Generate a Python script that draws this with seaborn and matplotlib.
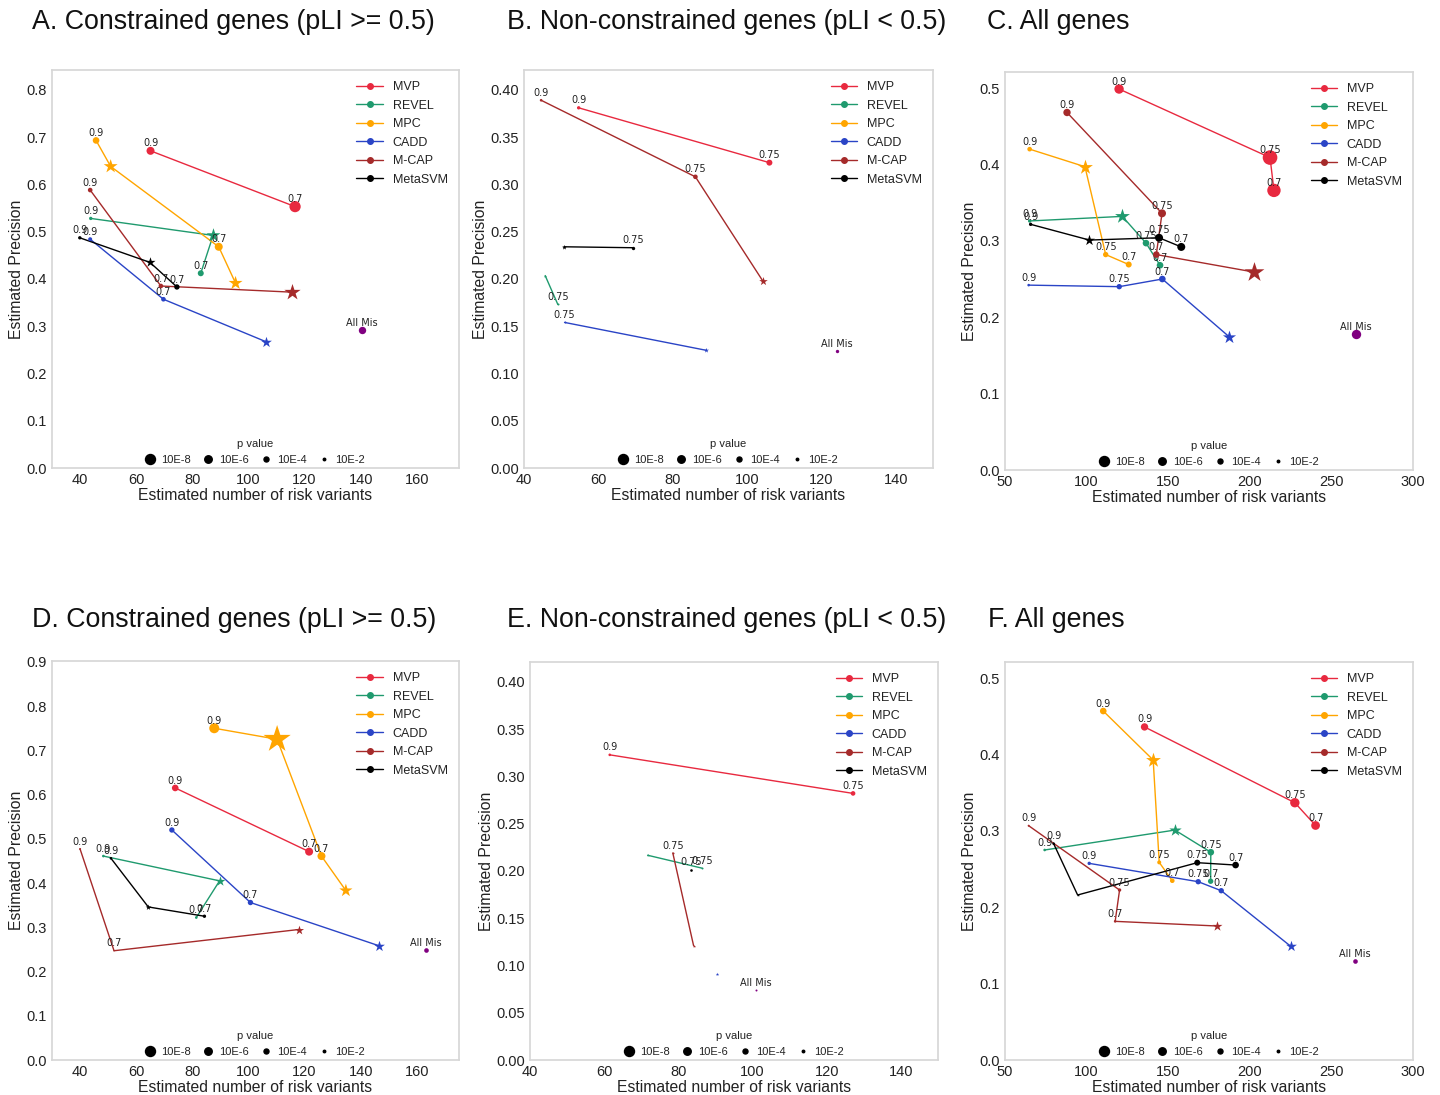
import numpy as np
import pandas as pd
import seaborn as sns
import matplotlib.pyplot as plt
from matplotlib.lines import Line2D
from matplotlib.ticker import MultipleLocator

#Methods and their colours
methods = ['MVP', 'REVEL', 'MPC', 'CADD', 'M-CAP', 'MetaSVM']
method_colors = ['#e8293f', '#1f9a6e', '#ffa500', '#2a44c6', '#a52a2a', '#000000']
#p value legend (-log10 p)
pvalue_legend = [8, 6, 4, 2]
pvalue_labels = ['10E-8', '10E-6', '10E-4', '10E-2']

#Panel A - constrained genes, threshold '' means the star point
a_method = ['MVP']*2 + ['REVEL']*3 + ['MPC']*4 + ['CADD']*3 + ['M-CAP']*3 + ['MetaSVM']*3
a_x = [65.1, 116.6, 43.8, 87.4, 83.0, 45.7, 50.9, 89.4, 95.4, 43.6, 69.7, 106.3, 43.6, 68.8, 115.5, 39.9, 64.9, 74.5]
a_y = [0.671, 0.553, 0.528, 0.492, 0.412, 0.693, 0.638, 0.468, 0.391, 0.484, 0.357, 0.267, 0.588, 0.385, 0.372, 0.487, 0.435, 0.383]
a_logp = [6.4, 9.0, 2.7, 9.0, 4.8, 5.3, 9.0, 6.4, 9.0, 3.2, 3.7, 7.0, 3.7, 3.7, 10.5, 2.7, 6.5, 4.3]
a_thr = ['0.9', '0.7', '0.9', '', '0.7', '0.9', '', '0.7', '', '0.9', '0.7', '', '0.9', '0.7', '', '0.9', '', '0.7']
a_allmis = [140.4, 0.291, 5.9]

#Panel B - non-constrained genes
b_method = ['MVP']*2 + ['REVEL']*2 + ['CADD']*2 + ['M-CAP']*3 + ['MetaSVM']*2
b_x = [54.7, 106.0, 45.7, 49.1, 50.9, 89.0, 44.6, 86.1, 104.2, 50.75, 69.4]
b_y = [0.381, 0.323, 0.2035, 0.173, 0.154, 0.1245, 0.389, 0.308, 0.198, 0.234, 0.233]
b_logp = [2.7, 4.8, 2.1, 1.6, 1.6, 3.2, 2.1, 3.7, 5.5, 3.2, 2.7]
b_thr = ['0.9', '0.75', '', '0.75', '0.75', '', '0.9', '0.75', '', '', '0.75']
b_allmis = [124.1, 0.1235, 2.7]

#Panel C - all genes
c_method = ['MVP']*3 + ['REVEL']*4 + ['MPC']*4 + ['CADD']*4 + ['M-CAP']*4 + ['MetaSVM']*4
c_x = [119.9, 212.4, 214.8, 65.1, 121.9, 136.4, 145.0, 65.1, 99.0, 111.7, 125.8, 64.5, 120.0, 146.4, 187.3,
       88.0, 146.2, 142.7, 202.8, 65.7, 101.7, 144.4, 158.0]
c_y = [0.4987, 0.409, 0.366, 0.326, 0.332, 0.297, 0.268, 0.420, 0.397, 0.282, 0.269, 0.242, 0.240, 0.250, 0.1745,
       0.468, 0.336, 0.282, 0.259, 0.3216, 0.301, 0.304, 0.292]
c_logp = [7.5, 11.7, 10.7, 2.7, 9.6, 5.3, 5.3, 3.7, 9.6, 4.3, 4.8, 2.1, 4.3, 5.3, 8.5,
          5.9, 6.4, 5.3, 12.8, 2.7, 7.0, 6.4, 6.4]
c_thr = ['0.9', '0.75', '0.7', '0.9', '', '0.75', '0.7', '0.9', '', '0.75', '0.7', '0.9', '0.75', '0.7', '',
         '0.9', '0.75', '0.7', '', '0.9', '', '0.75', '0.7']
c_allmis = [264.9, 0.178, 7.5]

#Panel D - constrained genes
d_method = ['MVP']*2 + ['REVEL']*3 + ['MPC']*4 + ['CADD']*3 + ['M-CAP']*3 + ['MetaSVM']*3
d_x = [73.9, 121.6, 48.3, 89.7, 81.4, 87.8, 110.2, 126.0, 134.7, 72.7, 100.7, 146.6, 40.0, 52.1, 117.9, 51.0, 64.3, 84.3]
d_y = [0.615, 0.471, 0.461, 0.405, 0.322, 0.750, 0.725, 0.461, 0.383, 0.520, 0.356, 0.258, 0.477, 0.247, 0.295, 0.456, 0.346, 0.325]
d_logp = [5.3, 6.4, 2.1, 6.4, 2.1, 8.0, 17.6, 6.4, 8.5, 4.3, 4.3, 7.0, 1.6, 1.1, 5.9, 2.1, 3.7, 2.7]
d_thr = ['0.9', '0.7', '0.9', '', '0.7', '0.9', '', '0.7', '', '0.9', '0.7', '', '0.9', '0.7', '', '0.9', '', '0.7']
d_allmis = [163.3, 0.248, 3.7]

#Panel E - non-constrained genes
e_method = ['MVP']*2 + ['REVEL']*2 + ['CADD'] + ['M-CAP']*2 + ['MetaSVM']
e_x = [61.5, 127.1, 71.7, 86.3, 90.4, 78.5, 84.1, 83.5]
e_y = [0.3228, 0.282, 0.2166, 0.203, 0.0907, 0.219, 0.121, 0.2014]
e_logp = [2.1, 3.7, 2.0, 1.6, 2.2, 1.6, 2.0, 2.1]
e_thr = ['0.9', '0.75', '', '0.75', '', '0.75', '', '0.75']
e_allmis = [100.9, 0.0737, 1.6]

#Panel F - all genes
f_method = ['MVP']*3 + ['REVEL']*4 + ['MPC']*4 + ['CADD']*4 + ['M-CAP']*4 + ['MetaSVM']*4
f_x = [135.5, 227.6, 240.3, 74.3, 154.1, 176.1, 176.0, 110.2, 140.8, 144.5, 152.5, 101.6, 168.4, 182.5, 225.1,
       64.5, 120.2, 117.5, 180.0, 79.8, 94.5, 167.8, 191.3]
f_y = [0.436, 0.3368, 0.307, 0.2749, 0.301, 0.272, 0.234, 0.4568, 0.3927, 0.2587, 0.2347, 0.2574, 0.2334, 0.2216, 0.1488,
       0.3067, 0.2225, 0.1815, 0.1754, 0.2832, 0.216, 0.2583, 0.2552]
f_logp = [5.9, 7.5, 7.0, 2.1, 8.0, 5.3, 4.3, 5.3, 9.6, 3.2, 3.7, 2.7, 4.3, 4.3, 7.0,
          1.6, 2.7, 2.1, 6.4, 2.1, 1.8, 4.8, 5.3]
f_thr = ['0.9', '0.75', '0.7', '0.9', '', '0.75', '0.7', '0.9', '', '0.75', '0.7', '0.9', '0.75', '0.7', '',
         '0.9', '0.75', '0.7', '', '0.9', '', '0.75', '0.7']
f_allmis = [264.5, 0.1296, 3.7]

titles = ['A. Constrained genes (pLI >= 0.5)', 'B. Non-constrained genes (pLI < 0.5)', 'C. All genes',
          'D. Constrained genes (pLI >= 0.5)', 'E. Non-constrained genes (pLI < 0.5)', 'F. All genes']

sns.set_theme(style='white', rc={'axes.edgecolor': '#d6d6d6', 'axes.linewidth': 1.2,
                                 'xtick.color': '#222222', 'ytick.color': '#222222',
                                 'axes.labelcolor': '#222222', 'text.color': '#222222'})
plt.rcParams['font.family'] = ['Liberation Sans', 'DejaVu Sans']

W, H = 1440, 1095
fig = plt.figure(figsize=(W / 100, H / 100), dpi=100)


def px_rect(l, t, r, b):
    return [l / W, 1 - b / H, (r - l) / W, (b - t) / H]


def ms(logp, star=False):
    #marker diameter in points from -log10 p, stars drawn a bit larger
    return 0.9 * np.asarray(logp) * (1.3 if star else 1.0)


def draw_panel(ax, df, allmis, xlim, ylim, xstep, ystep):
    for m, c in zip(methods, method_colors):
        sub = df[df['method'] == m]
        if sub.empty:
            continue
        sns.lineplot(data=sub, x='x', y='y', sort=False, estimator=None, color=c, lw=1,
                     ax=ax, legend=False, zorder=2)
        for mk, part in [('o', sub[sub['thr'] != '']), ('*', sub[sub['thr'] == ''])]:
            if part.empty:
                continue
            sns.scatterplot(data=part, x='x', y='y', s=ms(part['logp'], mk == '*') ** 2, marker=mk,
                            color=c, linewidth=0, ax=ax, legend=False, zorder=3)
        for _, r in sub.iterrows():
            if r['thr']:
                ax.annotate(r['thr'], (r['x'], r['y']), xytext=(0, 3.2), textcoords='offset points',
                            ha='center', va='baseline', fontsize=7, family='DejaVu Sans', color='#222222')
    am = pd.DataFrame({'x': [allmis[0]], 'y': [allmis[1]]})
    sns.scatterplot(data=am, x='x', y='y', s=ms([allmis[2]]) ** 2, color='purple', linewidth=0,
                    ax=ax, legend=False, zorder=3)
    ax.annotate('All Mis', (allmis[0], allmis[1]), xytext=(0, 3.2), textcoords='offset points',
                ha='center', va='baseline', fontsize=7, family='DejaVu Sans', color='#222222')

    ax.set_xlim(*xlim)
    ax.set_ylim(*ylim)
    ax.xaxis.set_major_locator(MultipleLocator(xstep))
    ax.yaxis.set_major_locator(MultipleLocator(ystep))
    ax.tick_params(labelsize=10.5, length=0)
    ax.set_xlabel('Estimated number of risk variants', fontsize=11.3, labelpad=1)
    ax.set_ylabel('Estimated Precision', fontsize=11.3, labelpad=2)

    h1 = [Line2D([], [], color=c, marker='o', markersize=4, lw=1, label=m)
          for m, c in zip(methods, method_colors)]
    leg1 = ax.legend(handles=h1, loc='upper right', frameon=False, fontsize=9,
                     labelspacing=0.52, handlelength=2.1)
    ax.add_artist(leg1)
    h2 = [Line2D([], [], color='black', marker='o', markersize=0.9 * v, lw=0, label=l)
          for v, l in zip(pvalue_legend, pvalue_labels)]
    ax.legend(handles=h2, loc='lower center', ncol=4, frameon=False, title='p value', fontsize=8,
              title_fontsize=8, handlelength=0.8, handletextpad=0.6, columnspacing=1.15,
              borderaxespad=0.1, borderpad=0.2)


panel_data = [
    (a_method, a_x, a_y, a_logp, a_thr, a_allmis),
    (b_method, b_x, b_y, b_logp, b_thr, b_allmis),
    (c_method, c_x, c_y, c_logp, c_thr, c_allmis),
    (d_method, d_x, d_y, d_logp, d_thr, d_allmis),
    (e_method, e_x, e_y, e_logp, e_thr, e_allmis),
    (f_method, f_x, f_y, f_logp, f_thr, f_allmis),
]
#layout: axes box in pixels, title anchor in pixels, limits
rects = [(52, 70, 459, 468), (524, 70, 933, 468), (1005, 72, 1413, 470),
         (52, 661, 459, 1060), (530, 662, 938, 1060), (1005, 662, 1413, 1060)]
title_pos = [(32, 22), (507, 22), (987, 22), (32, 620), (507, 620), (988, 620)]
xlims = [(30, 175), (40, 150), (50, 300), (30, 175), (40, 150), (50, 300)]
ylims = [(0, 0.842), (0, 0.421), (0, 0.521), (0, 0.902), (0, 0.421), (0, 0.521)]
xsteps = [20, 20, 50, 20, 20, 50]
ysteps = [0.1, 0.05, 0.1, 0.1, 0.05, 0.1]

for i, (meth, xs, ys, lp, th, allmis) in enumerate(panel_data):
    df = pd.DataFrame({'method': meth, 'x': xs, 'y': ys, 'logp': lp, 'thr': th})
    ax = fig.add_axes(px_rect(*rects[i]))
    draw_panel(ax, df, allmis, xlims[i], ylims[i], xsteps[i], ysteps[i])
    fig.text(title_pos[i][0] / W, 1 - title_pos[i][1] / H, titles[i], fontsize=19.3,
             ha='left', va='center', color='#111111')

fig.savefig('out.png', dpi=100)
